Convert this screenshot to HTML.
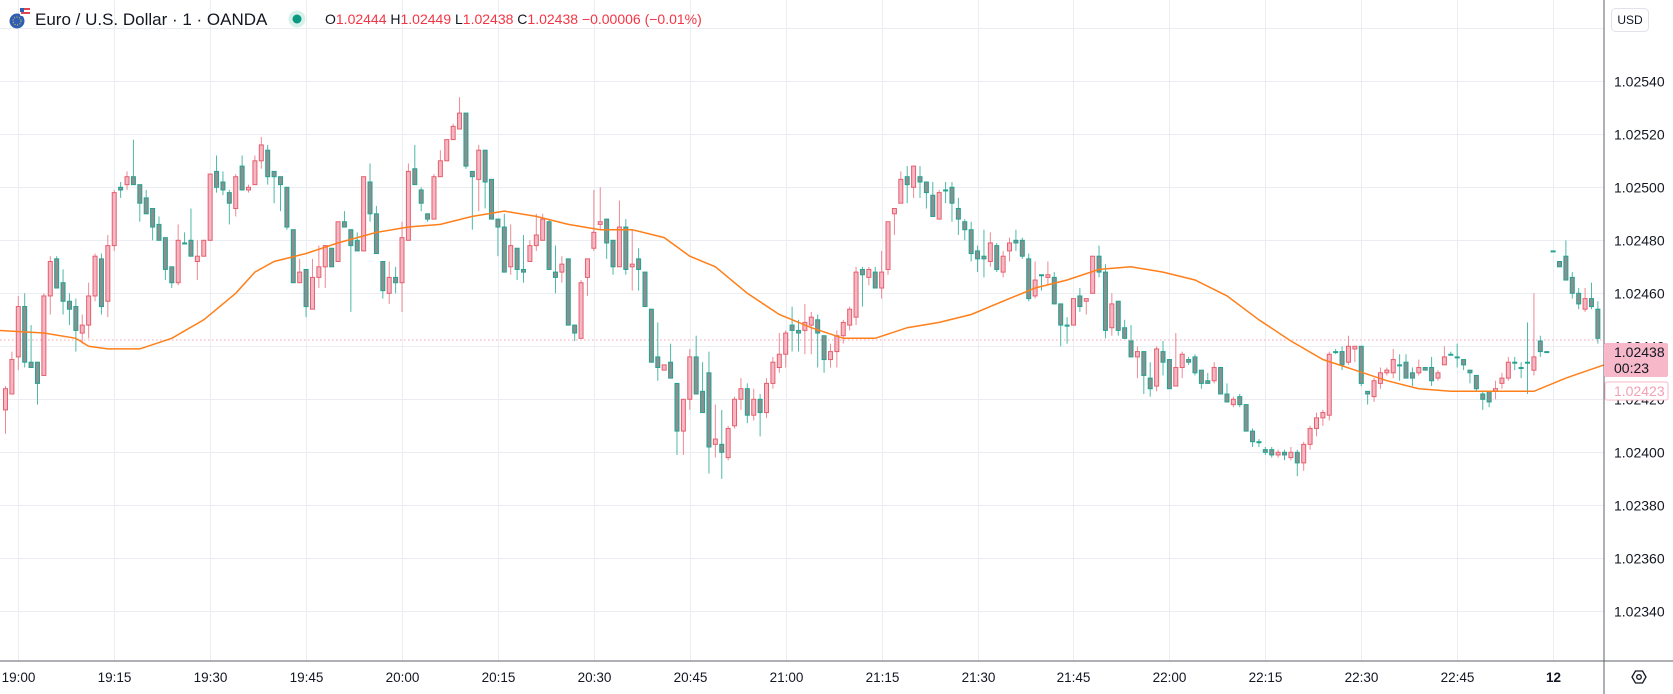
<!DOCTYPE html>
<html><head><meta charset="utf-8"><style>
html,body{margin:0;padding:0;background:#fff;width:1673px;height:694px;overflow:hidden}
svg{display:block;font-family:"Liberation Sans",sans-serif}
</style></head><body>
<svg id="chart" width="1673" height="694" viewBox="0 0 1673 694">
<g id="grid"></g>
<line x1="0" y1="340" x2="1604" y2="340" stroke="#f5a3b5" stroke-width="1" stroke-dasharray="1.5 2.5"/>
<g id="candles"></g>
<polyline id="ma" fill="none" stroke="#ff7f1a" stroke-width="1.5"/>
<g>
 <g>
  <circle cx="17" cy="21" r="7.5" fill="#2f5fb3"/>
  <circle cx="17" cy="21" r="4" fill="none" stroke="#f6c945" stroke-width="1" stroke-dasharray="1 1.6"/>
  <rect x="20" y="8" width="10" height="8" rx="1.5" fill="#fff"/>
  <rect x="21" y="8" width="9" height="2" fill="#e0464f"/><rect x="21" y="12" width="9" height="2" fill="#e0464f"/>
  <rect x="20" y="8" width="4" height="4" fill="#2f5fb3"/>
 </g>
 <text x="35" y="25" font-size="17" fill="#131722">Euro / U.S. Dollar · 1 · OANDA</text>
 <circle cx="297" cy="19" r="8.5" fill="#d7f0ea"/>
 <circle cx="297" cy="19" r="4.5" fill="#089981"/>
 <text x="325" y="24" font-size="14" fill="#131722">O<tspan fill="#f23645">1.02444</tspan> H<tspan fill="#f23645">1.02449</tspan> L<tspan fill="#f23645">1.02438</tspan> C<tspan fill="#f23645">1.02438</tspan> <tspan fill="#f23645">−0.00006 (−0.01%)</tspan></text>
</g>
<line x1="1604" y1="0" x2="1604" y2="694" stroke="#5d606b" stroke-width="1"/>
<line x1="0" y1="661" x2="1673" y2="661" stroke="#5d606b" stroke-width="1"/>
<g id="ylabels"></g>
<g id="xlabels"></g>
<g>
 <rect x="1611.5" y="8.5" width="37" height="23" rx="4" fill="#fff" stroke="#e0e3eb"/>
 <text x="1630" y="24" font-size="12" text-anchor="middle" fill="#131722">USD</text>
</g>
<g>
 <rect x="1604" y="343" width="64" height="34" rx="2" fill="#f7b9c9"/>
 <text x="1614" y="357" font-size="14" fill="#131722">1.02438</text>
 <text x="1614" y="373" font-size="14" fill="#131722">00:23</text>
</g>
<g>
 <rect x="1605" y="382" width="63" height="18" rx="2" fill="#fff" stroke="#f7b9c9"/>
 <text x="1614" y="396" font-size="14" fill="#f5a0b6">1.02423</text>
</g>
<g>
 <polygon points="1632,677 1635.5,671 1642.5,671 1646,677 1642.5,683 1635.5,683" fill="none" stroke="#131722" stroke-width="1.3"/>
 <circle cx="1639" cy="677" r="2.3" fill="none" stroke="#131722" stroke-width="1.3"/>
</g>
</svg>
<script>
// price data in points: price = 1.02 + p/100000, first candle index = -2 (19:00 = index 0)
const firstIndex = -2;
const opens = [416,422,436,455,434,434,429,459,473,464,457,455,
445,448,459,473,457,478,500,501,504,501,
496,492,486,481,470,464,479,480,472,474,
480,506,502,498,492,508,499,501,510,514,
506,504,500,484,464,469,454,466,470,477,
472,487,484,480,476,502,490,472,460,466,
464,480,507,499,490,488,504,510,518,522,
528,506,503,514,503,488,485,470,477,469,
472,478,480,487,468,468,473,448,443,466,
477,486,488,480,470,485,470,473,468,454,
436,431,434,426,408,420,436,423,430,403,
403,398,410,420,424,414,420,415,426,432,
437,448,446,446,448,450,444,435,438,444,
448,451,469,466,468,462,469,490,494,504,
500,504,502,497,488,499,500,492,487,484,
476,474,472,478,468,476,480,480,473,459,
467,466,466,456,448,448,459,457,460,474,
468,447,457,447,442,436,438,428,425,438,
435,425,432,435,436,431,427,427,432,422,
418,421,418,408,404,401,401,399,400,398,
400,396,403,409,413,414,438,438,434,439,
440,423,421,426,430,430,433,434,430,430,
432,432,428,433,437,436,435,431,429,422,
423,423,426,428,434,432,434,431,442,438,
476,472,474,466,460,454,458,454];
const highs = [425,438,459,460,448,434,460,474,474,469,460,458,
452,464,475,475,482,499,502,506,518,501,
499,492,489,481,470,486,483,492,480,480,
505,512,506,499,505,512,501,512,519,516,
506,504,500,484,473,469,473,478,478,477,
487,491,484,483,504,509,493,472,472,470,
487,509,516,500,490,505,514,518,524,534,
528,506,516,514,503,488,490,486,477,482,
480,490,490,488,478,474,473,448,465,473,
499,500,488,480,495,488,484,477,468,454,
449,433,441,426,420,439,444,434,438,418,
416,410,421,428,426,424,422,428,436,445,
446,455,450,456,453,452,444,441,446,450,
455,470,470,470,470,476,487,492,506,508,
508,508,502,502,499,502,502,496,488,487,
478,484,483,479,476,481,484,481,475,472,
467,472,468,456,451,458,462,458,474,478,
471,460,457,450,448,440,438,434,440,442,
435,445,438,436,437,431,430,434,432,426,
421,422,418,409,405,402,402,401,401,402,
401,404,410,415,416,438,439,440,444,440,
440,423,428,432,432,439,437,437,432,435,
432,436,431,440,438,441,435,431,429,423,
423,427,430,436,436,434,449,460,444,438,
476,472,480,468,462,462,464,457];
const lows = [407,422,431,432,432,418,429,452,462,452,448,438,
441,443,457,452,451,476,496,499,501,487,
490,480,480,465,462,463,479,474,465,474,
480,498,497,486,489,499,498,501,507,501,
494,491,484,464,464,451,454,462,462,470,
472,485,453,476,476,487,475,458,456,460,
453,480,501,491,487,488,504,510,518,522,
507,484,491,492,488,474,468,467,465,464,
472,476,480,469,460,464,448,442,443,459,
476,484,473,467,470,467,461,461,455,434,
427,431,428,399,399,416,422,415,392,398,
390,397,409,416,411,412,406,413,424,430,
432,438,438,437,437,432,430,432,432,441,
446,448,455,463,462,458,467,482,494,494,
496,496,492,489,488,494,487,482,480,472,
468,466,470,468,466,472,476,473,457,458,
461,463,456,440,441,448,453,452,460,466,
443,444,444,443,436,428,422,421,423,429,
424,425,428,433,429,424,426,426,422,419,
417,417,408,402,402,399,398,398,397,397,
391,393,401,406,410,412,437,431,433,434,
425,418,419,424,429,428,427,428,425,429,
431,425,427,433,437,432,431,426,423,416,
417,420,424,427,431,428,422,429,436,438,
476,470,465,458,454,453,454,441];
const closes = [424,435,455,434,432,426,459,472,462,457,454,446,
448,459,474,455,478,498,499,504,501,494,
490,485,480,469,464,480,479,474,474,480,
505,500,499,494,504,499,500,510,516,504,
504,501,485,464,468,455,466,470,478,470,
487,485,478,476,504,490,475,461,466,464,
481,506,501,494,488,504,510,518,523,528,
508,504,514,502,488,485,468,478,469,468,
478,482,488,469,466,471,448,445,464,473,
483,487,479,470,485,469,471,469,455,434,
432,433,428,408,420,436,422,415,402,405,
400,409,420,424,414,420,415,426,434,437,
445,446,445,449,451,445,435,438,444,449,
454,468,467,469,462,468,487,492,503,501,
508,502,498,489,498,499,494,488,484,475,
473,473,479,469,474,479,479,474,458,465,
467,467,456,448,448,458,455,458,474,468,
446,456,446,443,436,438,429,424,439,434,
424,432,437,434,430,426,426,432,422,419,
420,418,408,404,404,400,399,400,399,400,
396,403,409,413,415,437,438,433,440,440,
426,422,427,430,431,435,433,428,428,432,
431,427,430,436,437,436,433,430,424,420,
419,424,428,434,434,432,434,436,438,438,
476,470,465,460,456,458,455,443];
// moving average at candle indices
const maIdx = [-3,4,9,11,14,19,24,29,34,37,40,45,50,56,61,66,71,76,81,86,91,96,101,105,109,114,119,124,129,134,139,144,149,154,159,164,169,174,179,184,189,194,199,204,209,214,219,224,229,234,237,242,248];
const maVal = [446,445,443,440,439,439,443,450,460,468,472,475,479,483,485,486,489,491,489,486,484,484,481,474,470,460,452,447,443,443,447,449,452,457,462,465,469,470,468,465,459,450,442,435,431,427,424,423,423,423,423,428,433];
const priceTicks = [1.0256,1.0254,1.0252,1.025,1.0248,1.0246,1.0244,1.0242,1.024,1.0238,1.0236,1.0234];
const timeTicks = ["19:00","19:15","19:30","19:45","20:00","20:15","20:30","20:45","21:00","21:15","21:30","21:45","22:00","22:15","22:30","22:45","12"];

const NS = "http://www.w3.org/2000/svg";
function xOf(i){ return 18.3 + 6.395*i; }
function yOfPrice(p){ return 187.3 + (1.025 - p)*265000; }
function yOfPts(v){ return yOfPrice(1.02 + v/100000); }
function mk(tag, attrs, parent){ const e=document.createElementNS(NS,tag); for(const k in attrs) e.setAttribute(k,attrs[k]); parent.appendChild(e); return e; }

const grid=document.getElementById('grid');
const yl=document.getElementById('ylabels');
priceTicks.forEach(p=>{
  const y=Math.round(yOfPrice(p))+0.5;
  const l=mk('line',{x1:0,x2:1604,y1:y,y2:y,stroke:'#eaeef3','stroke-width':1},grid);
  
  
  if(p<1.0255){
    const t=mk('text',{x:1614,y:y+5,'font-size':14,fill:'#131722'},yl);
    t.textContent=p.toFixed(5);
    
    
  }
});
const xl=document.getElementById('xlabels');
timeTicks.forEach((lab,k)=>{
  const x=Math.round(xOf(k*15))+0.5;
  const l=mk('line',{x1:x,x2:x,y1:0,y2:661,stroke:'#eaeef3','stroke-width':1},grid);
  
  
  const t=mk('text',{x:x,y:682,'font-size':13.5,fill:'#131722','text-anchor':'middle','font-weight':lab==='12'?'bold':'normal'},xl);
  t.textContent=lab;
  
  
});

const cg=document.getElementById('candles');
for(let k=0;k<closes.length;k++){
  const i=firstIndex+k, x=xOf(i);
  const up=closes[k]>opens[k];
  const stroke=up?'#e4606d':'#22a391';
  const fill=up?'#f7b6c4':'#8a8f8f';
  const g=mk('g',{},cg);
  
  
  mk('line',{x1:x,x2:x,y1:yOfPts(highs[k]),y2:yOfPts(lows[k]),stroke:up?'#ec8a94':'#4fb8a6','stroke-width':1},g);
  const yt=yOfPts(Math.max(opens[k],closes[k])), yb=yOfPts(Math.min(opens[k],closes[k]));
  mk('rect',{x:x-2,y:yt,width:4,height:Math.max(1,yb-yt),fill:fill,stroke:stroke,'stroke-width':1},g);
}
document.getElementById('ma').setAttribute('points', maIdx.map((i,k)=>xOf(i).toFixed(1)+','+yOfPts(maVal[k]).toFixed(1)).join(' '));
</script>
</body></html>
